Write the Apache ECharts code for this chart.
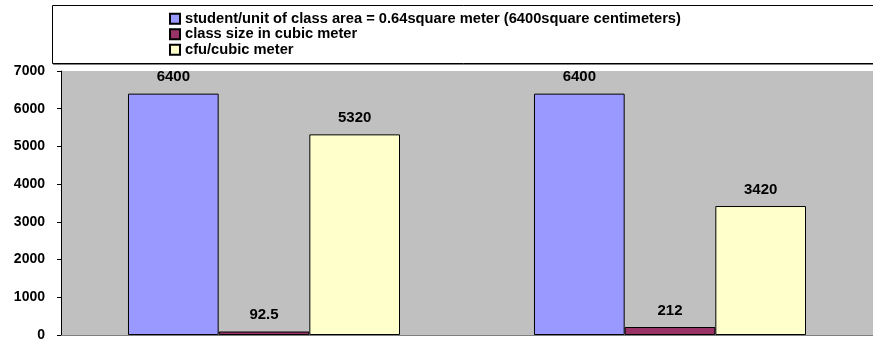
<!DOCTYPE html>
<html>
<head>
<meta charset="utf-8">
<script src="https://cdn.jsdelivr.net/npm/echarts@6/dist/echarts.min.js"></script>
<style>
    html, body { margin: 0; padding: 0; background: #fff; }
    #main { width: 873px; height: 342px; }
</style>
</head>
<body>
<div id="main"></div>
<script type="text/javascript">
var categories = ['Class A', 'Class B'];
var seriesNames = [
    'student/unit of class area = 0.64square meter (6400square centimeters)',
    'class size in cubic meter',
    'cfu/cubic meter'
];
var studentArea = [6400, 6400];
var classSize = [92.5, 212];
var cfuPerCubic = [5320, 3420];
var colors = ['#9999ff', '#993366', '#ffffcc'];

var font = 'Liberation Sans, Arial, sans-serif';
var myChart = echarts.init(document.getElementById('main'));

function barSeries(name, data, color) {
    return {
        name: name,
        type: 'bar',
        barGap: '0%',
        barCategoryGap: '33%',
        itemStyle: {
            color: color,
            borderColor: '#000',
            borderWidth: 1
        },
        label: {
            show: true,
            position: 'top',
            distance: 9,
            color: '#000',
            fontFamily: font,
            fontWeight: 'bold',
            fontSize: 15
        },
        data: data
    };
}

var option = {
    animation: false,
    backgroundColor: '#fff',
    graphic: [{
        type: 'rect',
        z: 0,
        shape: { x: 52.5, y: 5.5, width: 840, height: 58 },
        style: { fill: '#fff', stroke: '#000', lineWidth: 1 }
    }, {
        type: 'line',
        z: 0,
        shape: { x1: 53, y1: 64.5, x2: 873, y2: 64.5 },
        style: { stroke: '#808080', lineWidth: 1 }
    }],
    legend: {
        orient: 'vertical',
        left: 169,
        top: 11,
        padding: 0,
        itemGap: 0,
        itemWidth: 10,
        itemHeight: 10,
        icon: 'rect',
        textStyle: {
            color: '#000',
            fontFamily: font,
            fontWeight: 'bold',
            fontSize: 14.7,
            lineHeight: 15.5
        },
        data: seriesNames
    },
    grid: {
        left: 61,
        right: 0,
        top: 71,
        bottom: 7,
        show: true,
        backgroundColor: '#c0c0c0',
        borderWidth: 0
    },
    xAxis: {
        type: 'category',
        data: categories,
        axisLabel: { show: false },
        axisTick: { show: false },
        axisLine: { lineStyle: { color: '#808080', width: 1 } }
    },
    yAxis: {
        type: 'value',
        min: 0,
        max: 7000,
        interval: 1000,
        axisLine: { show: true, lineStyle: { color: '#000', width: 1 } },
        axisTick: { show: true, length: 4, lineStyle: { color: '#000' } },
        splitLine: { show: false },
        axisLabel: {
            margin: 16,
            color: '#000',
            fontFamily: font,
            fontWeight: 'bold',
            fontSize: 14,
            formatter: function (v) { return String(v); }
        }
    },
    series: [
        barSeries(seriesNames[0], studentArea, colors[0]),
        barSeries(seriesNames[1], classSize, colors[1]),
        barSeries(seriesNames[2], cfuPerCubic, colors[2])
    ]
};
myChart.setOption(option);
</script>
</body>
</html>
